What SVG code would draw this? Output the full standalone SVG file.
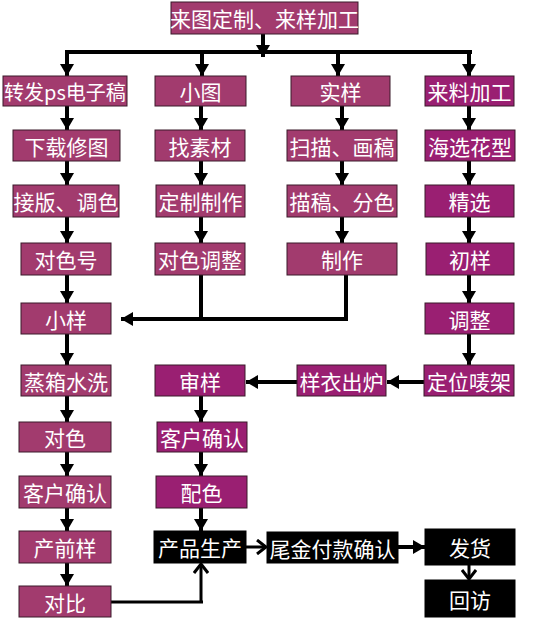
<svg xmlns="http://www.w3.org/2000/svg" width="547" height="621" viewBox="0 0 547 621">
<style>
.a{fill:#A23B6E;stroke:#3a1a2a;stroke-width:1}
.b{fill:#9A1F72;stroke:#3a1a2a;stroke-width:1}
.k{fill:#000;stroke:#000;stroke-width:1}
text{font-family:"Noto Sans CJK SC","Microsoft YaHei",sans-serif;font-size:21px;fill:#fff;text-anchor:middle;dominant-baseline:central}
.c{stroke:#000;stroke-width:4;fill:none}
.t{stroke:#000;stroke-width:3;fill:none}
</style>
<defs>
<marker id="ah" markerUnits="userSpaceOnUse" markerWidth="14" markerHeight="14" viewBox="0 0 14 14" refX="12" refY="7" orient="auto"><path d="M0,0 L12,7 L0,14 Z" fill="#000"/></marker>
<marker id="ch" markerUnits="userSpaceOnUse" markerWidth="14" markerHeight="16" viewBox="0 0 14 16" refX="11" refY="8" orient="auto"><path d="M2,1 L11,8 L2,15" fill="none" stroke="#000" stroke-width="3"/></marker>
</defs>
<g id="connectors">
<line class="c" x1="263" y1="34" x2="263" y2="57" marker-end="url(#ah)"/>
<line class="c" x1="65" y1="52" x2="472" y2="52"/>
<line class="c" x1="67" y1="52" x2="67" y2="76" marker-end="url(#ah)"/>
<line class="c" x1="202" y1="54" x2="202" y2="76" marker-end="url(#ah)"/>
<line class="c" x1="338" y1="52" x2="338" y2="76" marker-end="url(#ah)"/>
<line class="c" x1="469" y1="52" x2="469" y2="76" marker-end="url(#ah)"/>
<line class="c" x1="67" y1="106" x2="67" y2="130" marker-end="url(#ah)"/>
<line class="c" x1="67" y1="161" x2="67" y2="185" marker-end="url(#ah)"/>
<line class="c" x1="67" y1="217" x2="67" y2="243" marker-end="url(#ah)"/>
<line class="c" x1="67" y1="275" x2="67" y2="303" marker-end="url(#ah)"/>
<line class="c" x1="67" y1="334" x2="67" y2="365" marker-end="url(#ah)"/>
<line class="c" x1="67" y1="396" x2="67" y2="422" marker-end="url(#ah)"/>
<line class="c" x1="67" y1="452" x2="67" y2="476" marker-end="url(#ah)"/>
<line class="c" x1="67" y1="508" x2="67" y2="531" marker-end="url(#ah)"/>
<line class="c" x1="67" y1="563" x2="67" y2="586" marker-end="url(#ah)"/>
<line class="c" x1="201" y1="106" x2="201" y2="130" marker-end="url(#ah)"/>
<line class="c" x1="201" y1="161" x2="201" y2="185" marker-end="url(#ah)"/>
<line class="c" x1="201" y1="217" x2="201" y2="243" marker-end="url(#ah)"/>
<line class="c" x1="201" y1="275" x2="201" y2="319"/>
<line class="c" x1="346" y1="275" x2="346" y2="321"/>
<line class="c" x1="348" y1="319" x2="121" y2="319" marker-end="url(#ah)"/>
<line class="c" x1="201" y1="396" x2="201" y2="422" marker-end="url(#ah)"/>
<line class="c" x1="201" y1="452" x2="201" y2="476" marker-end="url(#ah)"/>
<line class="c" x1="201" y1="508" x2="201" y2="531" marker-end="url(#ah)"/>
<line class="c" x1="342" y1="106" x2="342" y2="130" marker-end="url(#ah)"/>
<line class="c" x1="342" y1="161" x2="342" y2="185" marker-end="url(#ah)"/>
<line class="c" x1="342" y1="217" x2="342" y2="243" marker-end="url(#ah)"/>
<line class="c" x1="469" y1="106" x2="469" y2="130" marker-end="url(#ah)"/>
<line class="c" x1="469" y1="161" x2="469" y2="185" marker-end="url(#ah)"/>
<line class="c" x1="469" y1="217" x2="469" y2="243" marker-end="url(#ah)"/>
<line class="c" x1="469" y1="275" x2="469" y2="303" marker-end="url(#ah)"/>
<line class="c" x1="469" y1="334" x2="469" y2="365" marker-end="url(#ah)"/>
<line class="c" x1="424" y1="382" x2="387" y2="382" marker-end="url(#ah)"/>
<line class="c" x1="297" y1="382" x2="246" y2="382" marker-end="url(#ah)"/>
<path class="t" d="M111,602 H203 M201,603 V564" marker-end="url(#ch)"/>
<line class="t" x1="246" y1="547" x2="266" y2="547" marker-end="url(#ch)"/>
<line class="c" x1="398" y1="547" x2="425" y2="547" marker-end="url(#ah)"/>
<line class="t" x1="469" y1="565" x2="469" y2="579" marker-end="url(#ch)"/>
</g>
<g id="n0"><rect class="a" x="171" y="2" width="187" height="32"/><text x="264.5" y="18">来图定制、来样加工</text></g>
<g id="n1"><rect class="a" x="3" y="76" width="124" height="30"/><text x="65" y="91" style="font-size:20px">转发ps电子稿</text></g>
<g id="n2"><rect class="a" x="155" y="76" width="91" height="30"/><text x="200.5" y="91">小图</text></g>
<g id="n3"><rect class="a" x="291" y="76" width="99" height="30"/><text x="340.5" y="91">实样</text></g>
<g id="n4"><rect class="b" x="425" y="76" width="89" height="30"/><text x="469.5" y="91">来料加工</text></g>
<g id="n5"><rect class="a" x="13" y="130" width="107" height="31"/><text x="66.5" y="145.5">下载修图</text></g>
<g id="n6"><rect class="a" x="155" y="130" width="90" height="31"/><text x="200" y="145.5">找素材</text></g>
<g id="n7"><rect class="a" x="287" y="130" width="110" height="31"/><text x="342" y="145.5">扫描、画稿</text></g>
<g id="n8"><rect class="b" x="425" y="130" width="90" height="31"/><text x="470" y="145.5">海选花型</text></g>
<g id="n9"><rect class="a" x="13" y="185" width="106" height="32"/><text x="66" y="201">接版、调色</text></g>
<g id="n10"><rect class="a" x="156" y="185" width="89" height="32"/><text x="200.5" y="201">定制制作</text></g>
<g id="n11"><rect class="a" x="287" y="185" width="110" height="32"/><text x="342" y="201">描稿、分色</text></g>
<g id="n12"><rect class="b" x="425" y="185" width="89" height="32"/><text x="469.5" y="201">精选</text></g>
<g id="n13"><rect class="a" x="21" y="243" width="90" height="32"/><text x="66" y="259">对色号</text></g>
<g id="n14"><rect class="a" x="155" y="243" width="90" height="32"/><text x="200" y="259">对色调整</text></g>
<g id="n15"><rect class="a" x="287" y="243" width="110" height="32"/><text x="342" y="259">制作</text></g>
<g id="n16"><rect class="b" x="426" y="243" width="88" height="32"/><text x="470" y="259">初样</text></g>
<g id="n17"><rect class="a" x="21" y="303" width="90" height="31"/><text x="66" y="318.5">小样</text></g>
<g id="n18"><rect class="b" x="425" y="303" width="89" height="31"/><text x="469.5" y="318.5">调整</text></g>
<g id="n19"><rect class="a" x="21" y="365" width="90" height="31"/><text x="66" y="380.5">蒸箱水洗</text></g>
<g id="n20"><rect class="b" x="155" y="365" width="90" height="31"/><text x="200" y="380.5">审样</text></g>
<g id="n21"><rect class="b" x="297" y="365" width="89" height="31"/><text x="341.5" y="380.5">样衣出炉</text></g>
<g id="n22"><rect class="b" x="424" y="365" width="90" height="31"/><text x="469" y="380.5">定位唛架</text></g>
<g id="n23"><rect class="a" x="19" y="422" width="92" height="30"/><text x="65" y="437">对色</text></g>
<g id="n24"><rect class="b" x="157" y="422" width="90" height="30"/><text x="202" y="437">客户确认</text></g>
<g id="n25"><rect class="a" x="19" y="476" width="92" height="32"/><text x="65" y="492">客户确认</text></g>
<g id="n26"><rect class="b" x="156" y="476" width="91" height="32"/><text x="201.5" y="492">配色</text></g>
<g id="n27"><rect class="a" x="19" y="531" width="92" height="32"/><text x="65" y="547">产前样</text></g>
<g id="n28"><rect class="k" x="154" y="531" width="92" height="32"/><text x="200" y="547">产品生产</text></g>
<g id="n29"><rect class="k" x="267" y="532" width="131" height="31"/><text x="332.5" y="547.5">尾金付款确认</text></g>
<g id="n30"><rect class="k" x="425" y="529" width="90" height="36"/><text x="470" y="547">发货</text></g>
<g id="n31"><rect class="a" x="19" y="586" width="92" height="31"/><text x="65" y="601.5">对比</text></g>
<g id="n32"><rect class="k" x="425" y="580" width="90" height="37"/><text x="470" y="598.5">回访</text></g>
</svg>
